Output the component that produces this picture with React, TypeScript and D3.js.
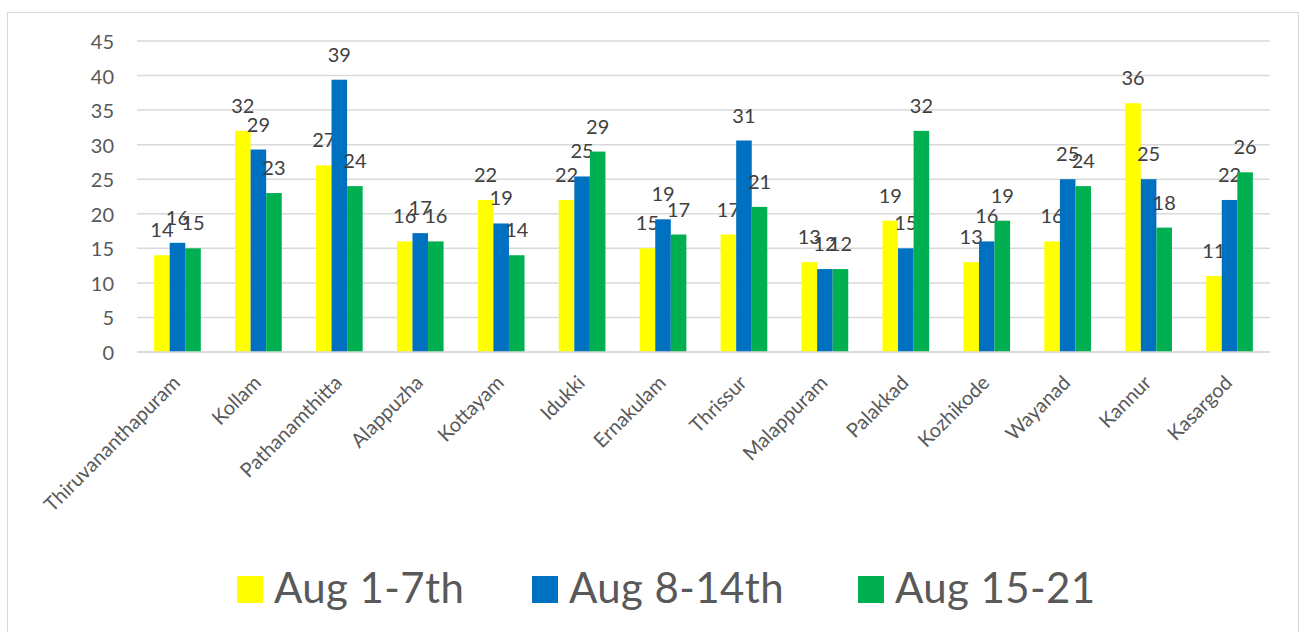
import * as d3 from 'd3'

const districts = [
  'Thiruvananthapuram', 'Kollam', 'Pathanamthitta', 'Alappuzha', 'Kottayam', 'Idukki', 'Ernakulam',
  'Thrissur', 'Malappuram', 'Palakkad', 'Kozhikode', 'Wayanad', 'Kannur', 'Kasargod'
]
const seriesNames = ['Aug 1-7th', 'Aug 8-14th', 'Aug 15-21']
const aug1to7 = [14, 32, 27, 16, 22, 22, 15, 17, 13, 19, 13, 16, 36, 11]
const aug8to14 = [15.8, 29.3, 39.4, 17.2, 18.6, 25.4, 19.2, 30.6, 12, 15, 16, 25, 25, 22]
const aug15to21 = [15, 23, 24, 16, 14, 29, 17, 21, 12, 32, 19, 24, 18, 26]
const yTicks = [0, 5, 10, 15, 20, 25, 30, 35, 40, 45]

const COLORS = ['#FFFF00', '#0070C0', '#00B050']
const WIDTH = 1303
const HEIGHT = 632
const PLOT = { left: 137, right: 1270, top: 41, bottom: 352 }
const FONT = 'Lato, "Open Sans", sans-serif'
// legend item start positions (square left edge)
const LEGEND_X = [237, 532, 858]

export default function App() {
  const values = [aug1to7, aug8to14, aug15to21]

  const x0 = d3.scaleBand()
    .domain(districts)
    .range([PLOT.left, PLOT.right])
    .padding(0)

  // Excel-like gap width ~220%
  const x1 = d3.scaleBand()
    .domain(seriesNames)
    .range([0, x0.bandwidth()])
    .paddingInner(0)
    .paddingOuter(1.1)

  const y = d3.scaleLinear()
    .domain([0, 45])
    .range([PLOT.bottom, PLOT.top])

  return (
    <div style={{ position: 'absolute', left: 0, top: 0 }}>
      <svg width={WIDTH} height={HEIGHT} style={{ display: 'block', background: '#fff' }}>
        {/* chart border */}
        <rect x={7.5} y={12.5} width={1291} height={640} fill="#fff" stroke="#d9d9d9" strokeWidth={1} />

        {/* gridlines + y labels */}
        {yTicks.map(t => (
          <g key={t}>
            <line
              x1={PLOT.left}
              x2={PLOT.right}
              y1={y(t)}
              y2={y(t)}
              stroke="#d9d9d9"
              strokeWidth={1.5}
            />
            <text
              x={114}
              y={y(t)}
              textAnchor="end"
              dominantBaseline="central"
              fill="#595959"
              fontSize={20}
              fontFamily={FONT}
            >
              {t}
            </text>
          </g>
        ))}

        {/* bars */}
        {districts.map((d, i) => (
          <g key={d} transform={`translate(${x0(d)},0)`}>
            {seriesNames.map((s, j) => {
              const v = values[j][i]
              const bx = x1(s)
              return (
                <g key={s}>
                  <rect
                    x={bx}
                    y={y(v)}
                    width={x1.bandwidth()}
                    height={y(0) - y(v)}
                    fill={COLORS[j]}
                  />
                  <text
                    x={bx + x1.bandwidth() / 2}
                    y={y(v) - 26}
                    textAnchor="middle"
                    dominantBaseline="central"
                    fill="#404040"
                    fontSize={20}
                    fontFamily={FONT}
                  >
                    {Math.round(v)}
                  </text>
                </g>
              )
            })}
          </g>
        ))}

        {/* axis line */}
        <line x1={PLOT.left} x2={PLOT.right} y1={y(0)} y2={y(0)} stroke="#d9d9d9" strokeWidth={1.5} />

        {/* category labels */}
        {districts.map(d => {
          const cx = x0(d) + x0.bandwidth() / 2
          return (
            <text
              key={d}
              transform={`translate(${cx + 4},${PLOT.bottom + 32}) rotate(-45)`}
              textAnchor="end"
              fill="#595959"
              fontSize={20}
              fontFamily={FONT}
            >
              {d}
            </text>
          )
        })}

        {/* legend */}
        {seriesNames.map((s, j) => (
          <g key={s} transform={`translate(${LEGEND_X[j]},576)`}>
            <rect x={0} y={0} width={26} height={27} fill={COLORS[j]} />
            <text x={37} y={27} fill="#595959" fontSize={42} letterSpacing={0.4} fontFamily={FONT}>
              {s}
            </text>
          </g>
        ))}
      </svg>
    </div>
  )
}
